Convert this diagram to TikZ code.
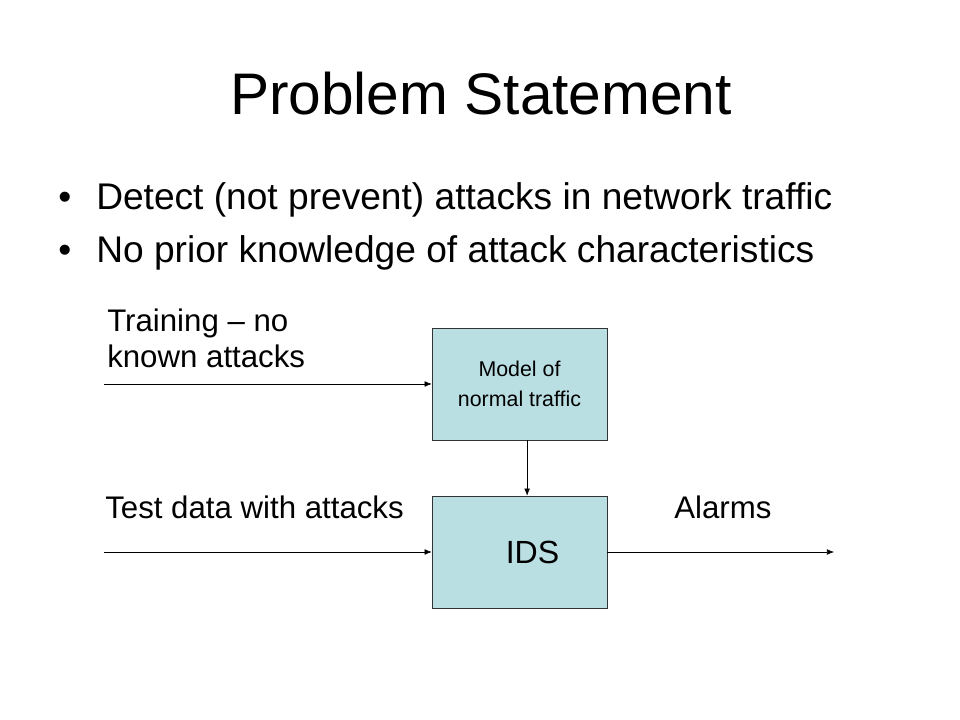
\documentclass[tikz,border=0pt]{standalone}
\usepackage{fontspec}
\setmainfont{Liberation Sans}
\usepackage{xcolor}
\usetikzlibrary{arrows.meta, positioning}

\definecolor{boxfill}{RGB}{186,223,227}

\begin{document}
\begin{tikzpicture}[
    x=0.025cm, y=-0.025cm,
    box/.style={rectangle, draw=black!80, fill=boxfill, minimum width=4.375cm, minimum height=2.8cm, align=center, inner sep=0pt},
    label/.style={anchor=base west, inner sep=0pt, font=\fontsize{22.2}{30}\selectfont},
    bullet/.style={anchor=base west, inner sep=0pt, font=\fontsize{26.4}{32}\selectfont},
    arrow/.style={thin, -{Latex[length=5pt, width=4pt]}},
]
    % Page
    \useasboundingbox[fill=white] (0,0) rectangle (960,720);

    % Title and bullets
    \node[anchor=base, inner sep=0pt, font=\fontsize{41.7}{50}\selectfont] (title) at (481,115) {Problem Statement};
    \node[bullet] (dot1) at (58,210) {•};
    \node[bullet] (item1) at (96,210) {Detect (not prevent) attacks in network traffic};
    \node[bullet] (dot2) at (58,263) {•};
    \node[bullet] (item2) at (96,263) {No prior knowledge of attack characteristics};

    % Blocks
    \node[box, font=\fontsize{15.2}{21}\selectfont] (model) at (519.5,384) {Model of\\normal traffic};
    \node[box, font=\fontsize{22.8}{28}\selectfont] (ids) at (519.5,552) {\hspace*{0.65cm}IDS};

    % Labels
    \node[label] (train) at (107,332) {Training – no};
    \node[label] (known) at (107,368) {known attacks};
    \node[label] (test) at (105,519) {Test data with attacks};
    \node[label] (alarms) at (674,519) {Alarms};

    % Arrow ends
    \coordinate (trainin) at (104,384);
    \coordinate (testin) at (104,552);
    \coordinate (alarmout) at (834,552);

    % Connect everything
    \draw[arrow] (trainin) -- (model.west);
    \draw[arrow] (testin) -- (ids.west);
    \draw[arrow] (ids.east) -- (alarmout);
    \draw[arrow] ([xshift=0.19cm]model.south) -- ([xshift=0.19cm]ids.north);
\end{tikzpicture}
\end{document}
